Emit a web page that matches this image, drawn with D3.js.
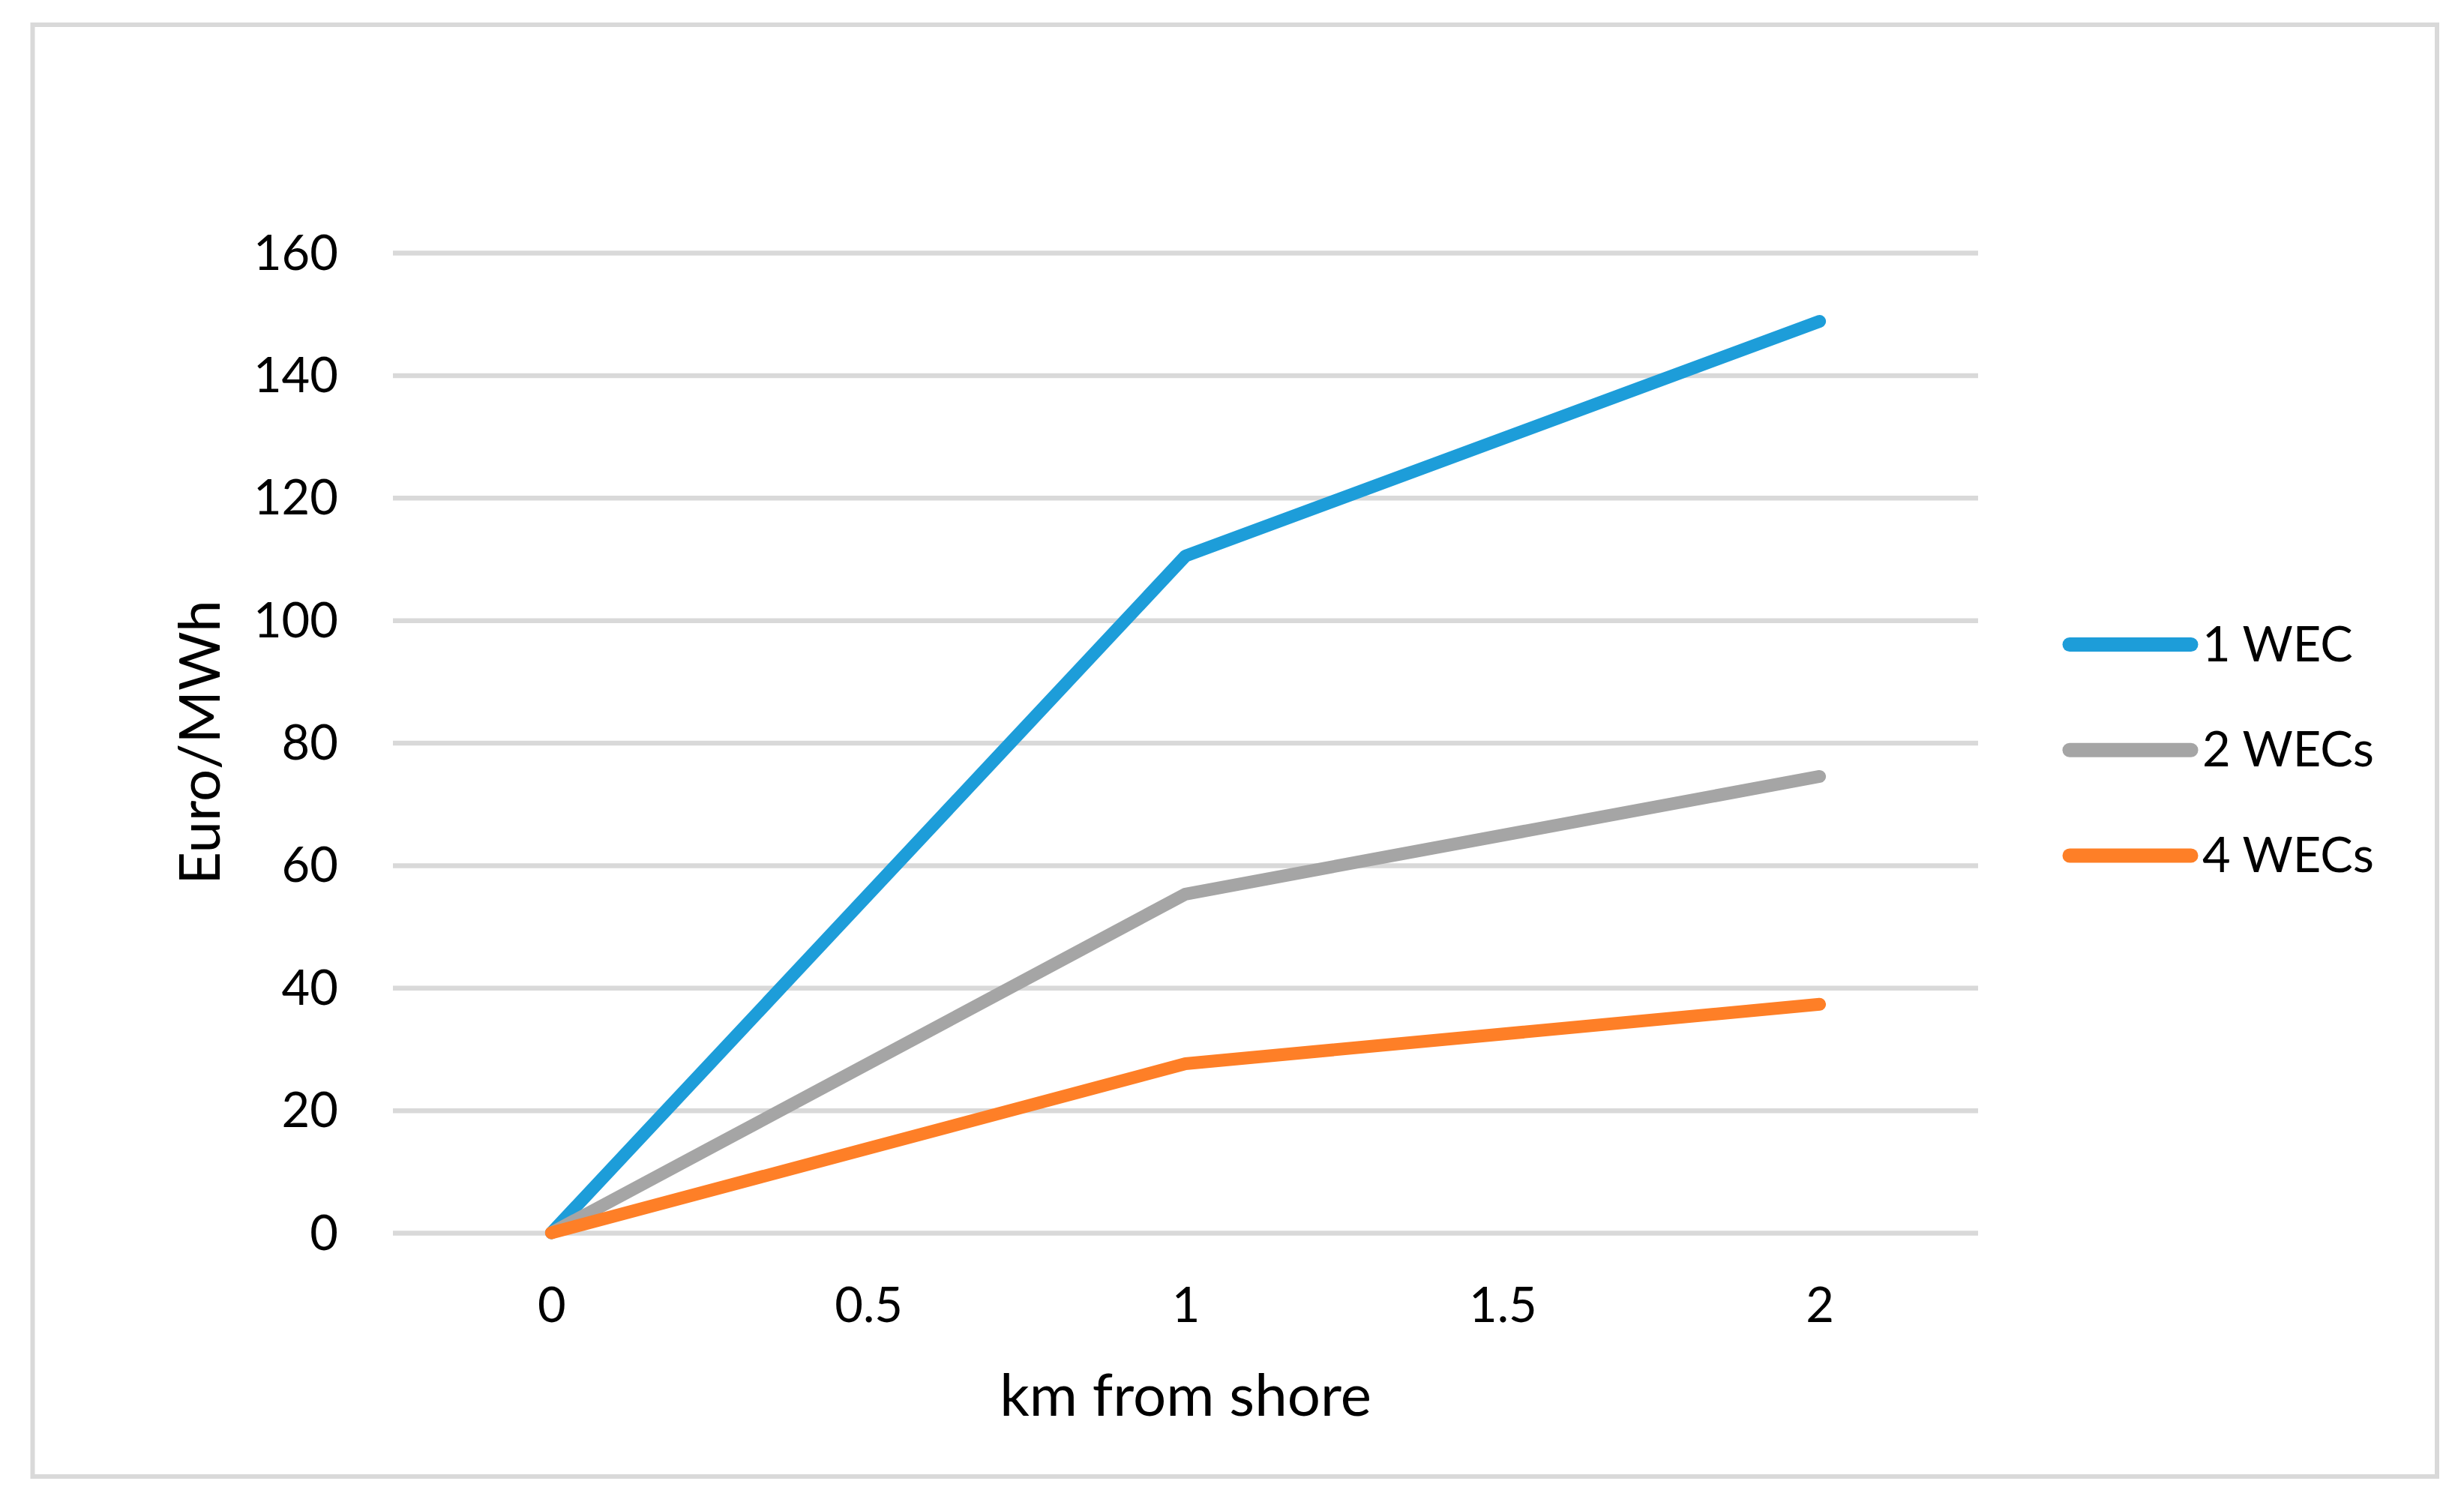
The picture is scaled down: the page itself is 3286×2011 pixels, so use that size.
<!DOCTYPE html>
<html>
<head>
<meta charset="utf-8">
<script src="https://cdn.jsdelivr.net/npm/d3@7"></script>
<style>
  html, body { margin: 0; padding: 0; background: #ffffff; }
  svg { display: block; }
  text { font-family: Lato, "Open Sans", sans-serif; fill: #000; }
</style>
</head>
<body>
<script>
// ---- data ----
const xValues = [0, 1, 2];
const seriesNames = ["1 WEC", "2 WECs", "4 WECs"];
const wec1 = [0, 110.5, 148.8];
const wec2 = [0, 55.3, 74.5];
const wec4 = [0, 27.6, 37.3];
const seriesColors = ["#1d9dd9", "#a5a5a5", "#fe7f27"];
const yTicks = [0, 20, 40, 60, 80, 100, 120, 140, 160];
const xTicks = [0, 0.5, 1, 1.5, 2];
const xTitle = "km from shore";
const yTitle = "Euro/MWh";

const W = 3286, H = 2011;
const svg = d3.select("body").append("svg").attr("width", W).attr("height", H);
svg.append("rect").attr("width", W).attr("height", H).attr("fill", "#fff");

// outer chart border
svg.append("rect")
  .attr("x", 43.5).attr("y", 33).attr("width", 3206.5).attr("height", 1936)
  .attr("fill", "none").attr("stroke", "#d9d9d9").attr("stroke-width", 6);

const plotL = 524, plotR = 2638, plotT = 337, plotB = 1644;
const x = d3.scaleLinear().domain([-0.25, 2.25]).range([plotL, plotR]);
const y = d3.scaleLinear().domain([0, 160]).range([plotB, plotT]);

// y axis with gridlines
const yAxis = svg.append("g")
  .attr("transform", `translate(${plotL},0)`)
  .call(d3.axisLeft(y).tickValues(yTicks).tickSize(-(plotR - plotL)).tickPadding(73).tickFormat(d3.format("d")));
yAxis.select(".domain").remove();
yAxis.selectAll(".tick line").attr("stroke", "#d9d9d9").attr("stroke-width", 6.5);
yAxis.selectAll(".tick text").attr("font-size", 65).attr("font-family", "Lato").attr("dy", "0.34em").attr("fill", "#000");

// x axis labels
const xAxis = svg.append("g")
  .attr("transform", `translate(0,${plotB})`)
  .call(d3.axisBottom(x).tickValues(xTicks).tickSize(0).tickPadding(73).tickFormat(d => String(d)));
xAxis.select(".domain").remove();
xAxis.selectAll(".tick text").attr("font-size", 65).attr("font-family", "Lato").attr("fill", "#000");

// axis titles
svg.append("text")
  .attr("x", (plotL + plotR) / 2).attr("y", 1888)
  .attr("text-anchor", "middle").attr("font-size", 78)
  .text(xTitle);
svg.append("text")
  .attr("transform", `translate(293,990) rotate(-90)`)
  .attr("text-anchor", "middle").attr("font-size", 76)
  .text(yTitle);

// lines
const allSeries = [wec1, wec2, wec4];
const line = d3.line().x((d, i) => x(xValues[i])).y(d => y(d));
allSeries.forEach((s, k) => {
  svg.append("path")
    .datum(s)
    .attr("d", line)
    .attr("fill", "none")
    .attr("stroke", seriesColors[k])
    .attr("stroke-width", 17)
    .attr("stroke-linecap", "round")
    .attr("stroke-linejoin", "round");
});

// legend
const legendRows = d3.scaleLinear().domain([0, 2]).range([859.5, 1141]);
seriesNames.forEach((name, k) => {
  const cy = legendRows(k);
  svg.append("line")
    .attr("x1", 2760).attr("x2", 2922).attr("y1", cy).attr("y2", cy)
    .attr("stroke", seriesColors[k]).attr("stroke-width", 19)
    .attr("stroke-linecap", "round");
  svg.append("text")
    .attr("x", 2937).attr("y", cy + 22)
    .attr("font-size", 65)
    .text(name);
});
</script>
</body>
</html>
